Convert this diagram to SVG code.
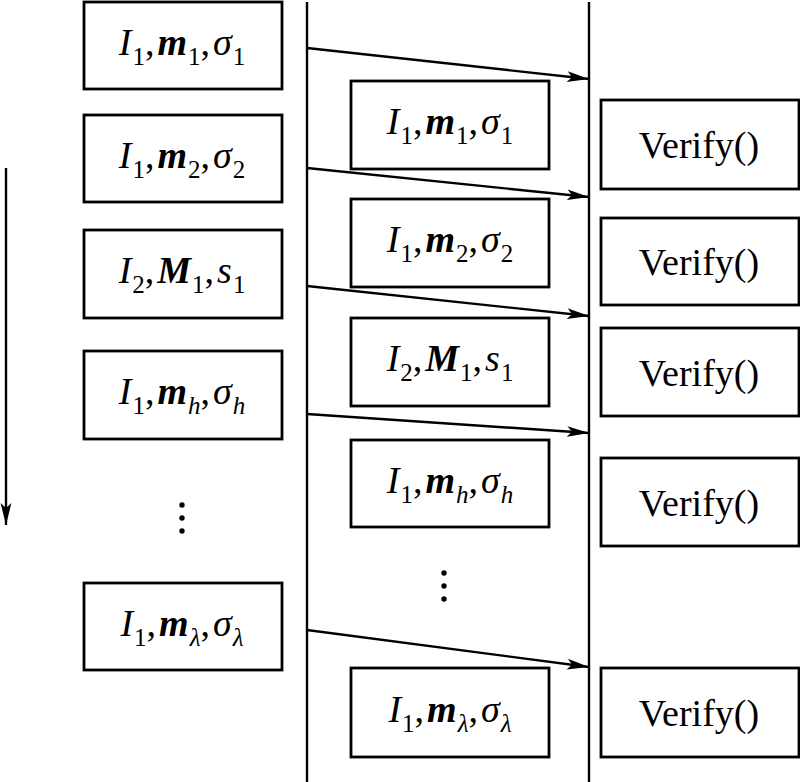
<svg xmlns="http://www.w3.org/2000/svg" width="800" height="782" viewBox="0 0 800 782">
<defs>
<marker id="ah" markerWidth="24" markerHeight="12" refX="22" refY="6" orient="auto" markerUnits="userSpaceOnUse">
<path d="M0,0.6 L22,6 L0,11.4 L5,6 z" fill="#000"/>
</marker>
</defs>
<style>
.box{fill:#fff;stroke:#000;stroke-width:2.8}
.ln{stroke:#000;stroke-width:2.4;fill:none}
.con{stroke:#000;stroke-width:2.4;fill:none;marker-end:url(#ah)}
.lbl{font-family:"Liberation Serif","Times New Roman",serif;font-size:38px;fill:#000}
.vf{font-size:38px}
.it{font-style:italic}
.bi{font-style:italic;font-weight:bold}
.sub{font-size:25px}
.dot{fill:#000}
</style>
<rect width="800" height="782" fill="#fff"/>
<g id="lines">
<line class="ln" x1="307" y1="2" x2="307" y2="782"/>
<line class="ln" x1="589" y1="2" x2="589" y2="782"/>
</g>
<g id="L1"><rect class="box" x="84" y="2" width="198" height="87"/>
<text class="lbl" x="182" y="55" text-anchor="middle"><tspan class="it">I</tspan><tspan class="sub" dy="10" dx="1">1</tspan><tspan dy="-10">,</tspan><tspan class="bi" dx="3">m</tspan><tspan class="sub" dy="10" dx="1">1</tspan><tspan dy="-10">,</tspan><tspan class="it" dx="3">σ</tspan><tspan class="sub" dy="10" dx="1">1</tspan></text></g>
<g id="L2"><rect class="box" x="84" y="115" width="198" height="87"/>
<text class="lbl" x="182" y="168" text-anchor="middle"><tspan class="it">I</tspan><tspan class="sub" dy="10" dx="1">1</tspan><tspan dy="-10">,</tspan><tspan class="bi" dx="3">m</tspan><tspan class="sub" dy="10" dx="1">2</tspan><tspan dy="-10">,</tspan><tspan class="it" dx="3">σ</tspan><tspan class="sub" dy="10" dx="1">2</tspan></text></g>
<g id="L3"><rect class="box" x="84" y="230" width="198" height="88"/>
<text class="lbl" x="182" y="283" text-anchor="middle"><tspan class="it">I</tspan><tspan class="sub" dy="10" dx="1">2</tspan><tspan dy="-10">,</tspan><tspan class="bi" dx="3">M</tspan><tspan class="sub" dy="10" dx="1">1</tspan><tspan dy="-10">,</tspan><tspan class="it" dx="3">s</tspan><tspan class="sub" dy="10" dx="1">1</tspan></text></g>
<g id="L4"><rect class="box" x="84" y="351" width="198" height="88"/>
<text class="lbl" x="182" y="404" text-anchor="middle"><tspan class="it">I</tspan><tspan class="sub" dy="10" dx="1">1</tspan><tspan dy="-10">,</tspan><tspan class="bi" dx="3">m</tspan><tspan class="sub it" dy="10" dx="1">h</tspan><tspan dy="-10">,</tspan><tspan class="it" dx="3">σ</tspan><tspan class="sub it" dy="10" dx="1">h</tspan></text></g>
<g id="Ldots"><circle class="dot" cx="182" cy="505" r="2.7"/><circle class="dot" cx="182" cy="518" r="2.7"/><circle class="dot" cx="182" cy="531" r="2.7"/></g>
<g id="L5"><rect class="box" x="84" y="583" width="198" height="87"/>
<text class="lbl" x="182" y="636" text-anchor="middle"><tspan class="it">I</tspan><tspan class="sub" dy="10" dx="1">1</tspan><tspan dy="-10">,</tspan><tspan class="bi" dx="3">m</tspan><tspan class="sub it" dy="10" dx="1">λ</tspan><tspan dy="-10">,</tspan><tspan class="it" dx="3">σ</tspan><tspan class="sub it" dy="10" dx="1">λ</tspan></text></g>

<g id="M1"><rect class="box" x="351" y="81" width="198" height="88"/>
<text class="lbl" x="450" y="134" text-anchor="middle"><tspan class="it">I</tspan><tspan class="sub" dy="10" dx="1">1</tspan><tspan dy="-10">,</tspan><tspan class="bi" dx="3">m</tspan><tspan class="sub" dy="10" dx="1">1</tspan><tspan dy="-10">,</tspan><tspan class="it" dx="3">σ</tspan><tspan class="sub" dy="10" dx="1">1</tspan></text></g>
<g id="M2"><rect class="box" x="351" y="199" width="198" height="88"/>
<text class="lbl" x="450" y="252" text-anchor="middle"><tspan class="it">I</tspan><tspan class="sub" dy="10" dx="1">1</tspan><tspan dy="-10">,</tspan><tspan class="bi" dx="3">m</tspan><tspan class="sub" dy="10" dx="1">2</tspan><tspan dy="-10">,</tspan><tspan class="it" dx="3">σ</tspan><tspan class="sub" dy="10" dx="1">2</tspan></text></g>
<g id="M3"><rect class="box" x="351" y="318" width="198" height="88"/>
<text class="lbl" x="450" y="371" text-anchor="middle"><tspan class="it">I</tspan><tspan class="sub" dy="10" dx="1">2</tspan><tspan dy="-10">,</tspan><tspan class="bi" dx="3">M</tspan><tspan class="sub" dy="10" dx="1">1</tspan><tspan dy="-10">,</tspan><tspan class="it" dx="3">s</tspan><tspan class="sub" dy="10" dx="1">1</tspan></text></g>
<g id="M4"><rect class="box" x="351" y="440" width="198" height="87"/>
<text class="lbl" x="450" y="493" text-anchor="middle"><tspan class="it">I</tspan><tspan class="sub" dy="10" dx="1">1</tspan><tspan dy="-10">,</tspan><tspan class="bi" dx="3">m</tspan><tspan class="sub it" dy="10" dx="1">h</tspan><tspan dy="-10">,</tspan><tspan class="it" dx="3">σ</tspan><tspan class="sub it" dy="10" dx="1">h</tspan></text></g>
<g id="Mdots"><circle class="dot" cx="444" cy="573" r="2.7"/><circle class="dot" cx="444" cy="586" r="2.7"/><circle class="dot" cx="444" cy="599" r="2.7"/></g>
<g id="M5"><rect class="box" x="351" y="668" width="198" height="89"/>
<text class="lbl" x="450" y="722" text-anchor="middle"><tspan class="it">I</tspan><tspan class="sub" dy="10" dx="1">1</tspan><tspan dy="-10">,</tspan><tspan class="bi" dx="3">m</tspan><tspan class="sub it" dy="10" dx="1">λ</tspan><tspan dy="-10">,</tspan><tspan class="it" dx="3">σ</tspan><tspan class="sub it" dy="10" dx="1">λ</tspan></text></g>

<g id="V1"><rect class="box" x="601" y="100" width="198" height="89"/><text class="lbl vf" x="699" y="158" text-anchor="middle">Verify()</text></g>
<g id="V2"><rect class="box" x="601" y="218" width="198" height="87"/><text class="lbl vf" x="699" y="275" text-anchor="middle">Verify()</text></g>
<g id="V3"><rect class="box" x="601" y="328" width="198" height="88"/><text class="lbl vf" x="699" y="386" text-anchor="middle">Verify()</text></g>
<g id="V4"><rect class="box" x="601" y="458" width="198" height="88"/><text class="lbl vf" x="699" y="516" text-anchor="middle">Verify()</text></g>
<g id="V5"><rect class="box" x="601" y="668" width="198" height="89"/><text class="lbl vf" x="699" y="726" text-anchor="middle">Verify()</text></g>

<g id="connectors">
<line class="con" x1="307" y1="48" x2="589" y2="79"/>
<line class="con" x1="307" y1="168" x2="589" y2="197"/>
<line class="con" x1="307" y1="286" x2="589" y2="316"/>
<line class="con" x1="307" y1="414" x2="589" y2="433"/>
<line class="con" x1="307" y1="630" x2="589" y2="667"/>
<line class="con" x1="6" y1="168" x2="6" y2="525"/>
</g>
</svg>
